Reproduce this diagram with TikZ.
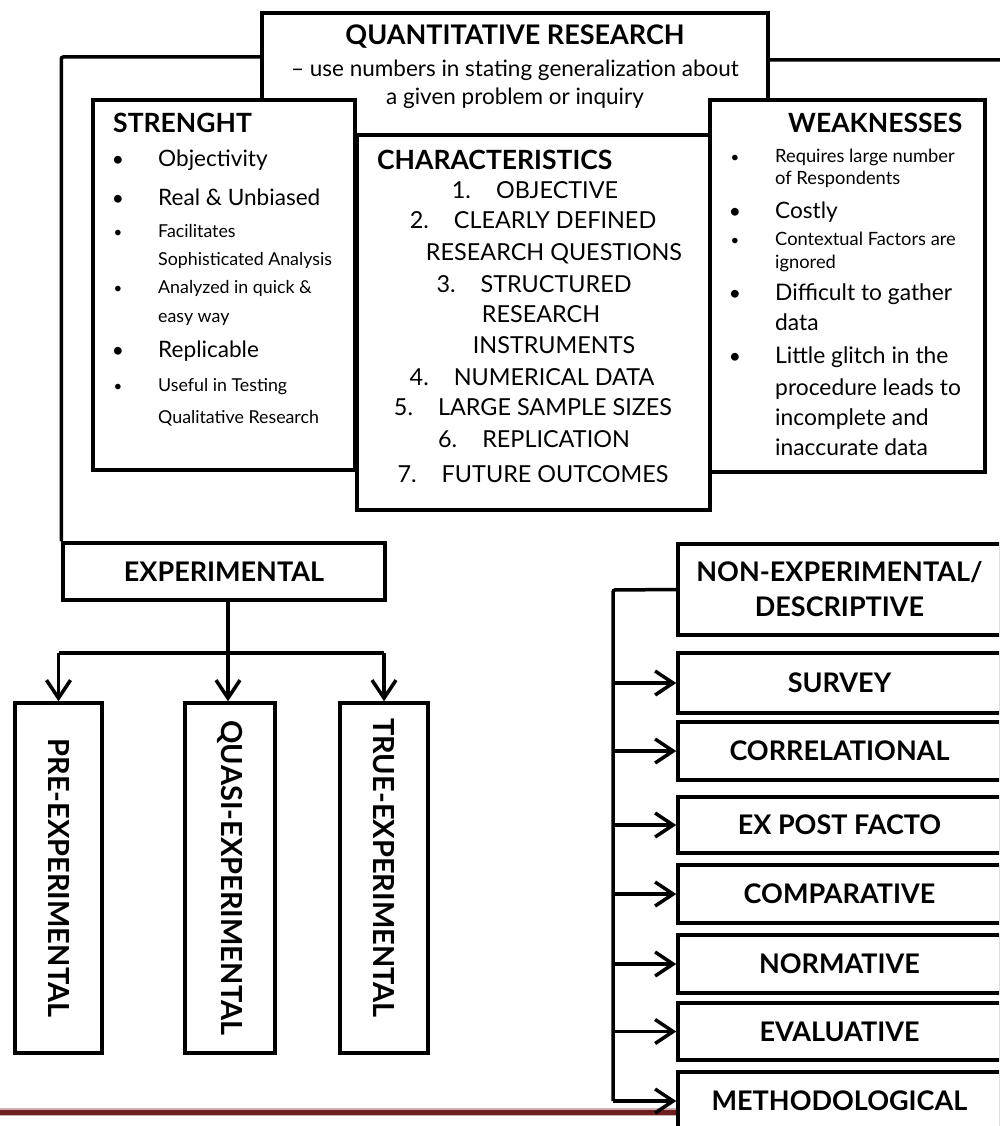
\documentclass[tikz,border=0pt]{standalone}
\usepackage{fontspec}
\setmainfont{Lato}
\usepackage{graphicx}
\usetikzlibrary{arrows.meta,positioning,calc,backgrounds}
\definecolor{footred}{HTML}{6E1E1E}
\tikzset{
  >={Straight Barb[length=18pt,width=24pt]},
  % kaders
  box/.style={draw=black,fill=white,line width=4pt,inner sep=0pt},
  sbox/.style={box,line width=3.5pt,font=\fontsize{27}{35}\selectfont\bfseries},
  vbox/.style={sbox,font=\fontsize{29}{35}\selectfont\bfseries},
  % lijnen
  conn/.style={draw=black,line width=3.5pt,rounded corners=2pt},
  arr/.style={conn,->},
  % tekst
  hd/.style={inner sep=0pt,anchor=base west,font=\fontsize{26.5}{30}\selectfont\bfseries},
  tline/.style={inner sep=0pt,anchor=base,font=\fontsize{22.5}{26}\selectfont},
  chr/.style={inner sep=0pt,anchor=base,font=\fontsize{23.4}{27}\selectfont},
  big/.style={inner sep=0pt,anchor=base west,font=\fontsize{22.6}{26}\selectfont},
  mid/.style={inner sep=0pt,anchor=base west,font=\fontsize{22.8}{26}\selectfont},
  sml/.style={inner sep=0pt,anchor=base west,font=\fontsize{17.8}{21}\selectfont},
  wsml/.style={inner sep=0pt,anchor=base west,font=\fontsize{18.3}{21}\selectfont},
  bul/.style={inner sep=0pt,anchor=base,font=\fontsize{21}{24}\selectfont},
  sbul/.style={inner sep=0pt,anchor=base,font=\fontsize{15}{17}\selectfont},
}
\newcommand{\numgap}{\hspace{25pt}}

\begin{document}
\begin{tikzpicture}[x=1pt,y=-1pt]
  \useasboundingbox (0,0) rectangle (999,1126);
  \clip (0,0) rectangle (999,1126);
  % bovenste kaders
  \node[box,minimum width=506pt,minimum height=122pt] (title) at (515,74) {};
  \node[box,minimum width=353pt,minimum height=375pt] (charac) at (533.5,322.5) {};
  \node[box,minimum width=262pt,minimum height=370pt] (strength) at (224,285) {};
  \node[box,minimum width=275pt,minimum height=372pt] (weak) at (847.5,286) {};
  % titel
  \node[tline,font=\fontsize{27}{30}\selectfont\bfseries] (t1) at (515,45) {QUANTITATIVE RESEARCH};
  \node[tline] (t2) at (515,77) {-- use numbers in stating generalization about};
  \node[tline] (t3) at (515,105) {a given problem or inquiry};
  % sterktes
  \node[hd] (sh) at (113,133) {STRENGHT};
  \node[bul] (sb1) at (118,167) {\textbullet};
  \node[bul] (sb2) at (118,205) {\textbullet};
  \node[sbul] (sb3) at (118,237) {\textbullet};
  \node[sbul] (sb4) at (118,293) {\textbullet};
  \node[bul] (sb5) at (118,357) {\textbullet};
  \node[sbul] (sb6) at (118,391) {\textbullet};
  \node[big] (s1) at (158,167) {Objectivity};
  \node[big] (s2) at (158,205) {Real \& Unbiased};
  \node[sml] (s3) at (158,237) {Facilitates};
  \node[sml] (s3b) at (158,265) {Sophisticated Analysis};
  \node[sml] (s4) at (158,293) {Analyzed in quick \&};
  \node[sml] (s4b) at (158,322) {easy way};
  \node[big] (s5) at (158,357) {Replicable};
  \node[sml] (s6) at (158,391) {Useful in Testing};
  \node[sml] (s6b) at (158,423) {Qualitative Research};
  % kenmerken
  \node[hd] (chh) at (377,170) {CHARACTERISTICS};
  \node[chr] (c1) at (535,198) {1.\numgap OBJECTIVE};
  \node[chr] (c2) at (533,228) {2.\numgap CLEARLY DEFINED};
  \node[chr] (c2b) at (554,260) {RESEARCH QUESTIONS};
  \node[chr] (c3) at (534,292) {3.\numgap STRUCTURED};
  \node[chr] (c3b) at (541,322) {RESEARCH};
  \node[chr] (c3c) at (554,353) {INSTRUMENTS};
  \node[chr] (c4) at (532,385) {4.\numgap NUMERICAL DATA};
  \node[chr] (c5) at (533,415) {5.\numgap LARGE SAMPLE SIZES};
  \node[chr] (c6) at (534,447) {6.\numgap REPLICATION};
  \node[chr] (c7) at (533,482) {7.\numgap FUTURE OUTCOMES};
  % zwaktes
  \node[hd] (wh) at (788,133) {WEAKNESSES};
  \node[sbul] (wb1) at (735,163) {\textbullet};
  \node[bul] (wb2) at (735,218) {\textbullet};
  \node[sbul] (wb3) at (735,245) {\textbullet};
  \node[bul] (wb4) at (735,300) {\textbullet};
  \node[bul] (wb5) at (735,363) {\textbullet};
  \node[wsml] (w1) at (775,163) {Requires large number};
  \node[wsml] (w1b) at (775,185) {of Respondents};
  \node[big] (w2) at (775,218) {Costly};
  \node[wsml] (w3) at (775,245) {Contextual Factors are};
  \node[wsml] (w3b) at (775,268) {ignored};
  \node[mid] (w4) at (775,300) {Difficult to gather};
  \node[mid] (w4b) at (775,330) {data};
  \node[mid] (w5) at (775,363) {Little glitch in the};
  \node[mid] (w5b) at (775,395) {procedure leads to};
  \node[mid] (w5c) at (775,425) {incomplete and};
  \node[mid] (w5d) at (775,455) {inaccurate data};
  % experimenteel
  \node[sbox,minimum width=322pt,minimum height=57pt] (exper) at (224,571.5) {EXPERIMENTAL};
  \node[vbox,minimum width=87pt,minimum height=350pt] (pre) at (58.5,878) {\rotatebox{-90}{PRE-EXPERIMENTAL}};
  \node[vbox,minimum width=90pt,minimum height=350pt] (quasi) at (230,878) {\rotatebox{-90}{QUASI-EXPERIMENTAL}};
  \node[vbox,minimum width=88pt,minimum height=350pt] (true) at (384,878) {\rotatebox{-90}{TRUE-EXPERIMENTAL\hspace{20pt}}};
  \coordinate (fork) at (228,653);
  % niet-experimenteel
  \node[sbox,minimum width=323pt,minimum height=91pt,align=center] (nonexp) at (839.5,589.5) {NON-EXPERIMENTAL/\\DESCRIPTIVE};
  \node[sbox,minimum width=323pt,minimum height=60pt] (survey) at (839.5,683) {SURVEY};
  \node[sbox,minimum width=323pt,minimum height=58pt] (correl) at (839.5,751) {CORRELATIONAL};
  \node[sbox,minimum width=323pt,minimum height=56pt] (expost) at (839.5,825) {EX POST FACTO};
  \node[sbox,minimum width=323pt,minimum height=58pt] (compar) at (839.5,894) {COMPARATIVE};
  \node[sbox,minimum width=323pt,minimum height=58pt] (normat) at (839.5,964) {NORMATIVE};
  \node[sbox,minimum width=323pt,minimum height=57pt] (evalu) at (839.5,1031.5) {EVALUATIVE};
  \node[sbox,minimum width=323pt,minimum height=58pt] (method) at (839.5,1101) {METHODOLOGICAL};
  \coordinate (bus) at (613,590);
  \coordinate (lt) at (262,57);
  \coordinate (rt) at (768,60);
  \begin{scope}[on background layer]
  \draw[conn] (lt) -| (exper.north west);
  \draw[conn] (rt) -| (nonexp.north east);
  \draw[line width=8pt,footred!35] (0,1112) -- (678,1112);
  \draw[line width=5pt,footred] (0,1112) -- (678,1112);
  \end{scope}
  \draw[conn] (exper.south -| fork) -- (fork);
  \draw[conn] (pre.north |- fork) -- (true.north |- fork);
  \draw[arr] (pre.north |- fork) -- (pre.north);
  \draw[arr] (fork) -- (quasi.north -| fork);
  \draw[arr] (true.north |- fork) -- (true.north);
  \draw[conn] (nonexp.west) -- (bus) -- (bus |- method.west);
  \draw[arr] (bus |- survey.west) -- (survey.west);
  \draw[arr] (bus |- correl.west) -- (correl.west);
  \draw[arr] (bus |- expost.west) -- (expost.west);
  \draw[arr] (bus |- compar.west) -- (compar.west);
  \draw[arr] (bus |- normat.west) -- (normat.west);
  \draw[arr] (bus |- evalu.west) -- (evalu.west);
  \draw[arr] (bus |- method.west) -- (method.west);
\end{tikzpicture}
\end{document}
